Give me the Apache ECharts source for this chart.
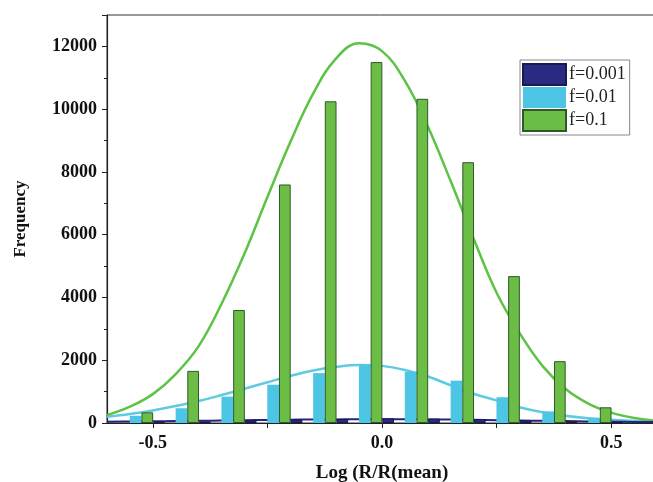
<!DOCTYPE html>
<html>
<head>
<meta charset="utf-8">
<script src="https://cdn.jsdelivr.net/npm/echarts@6/dist/echarts.min.js"></script>
<style>html,body{margin:0;padding:0;background:#fff}#c{width:653px;height:482px}</style>
</head>
<body>
<div id="c"></div>
<script>
// Bin centres (Log(R/R(mean)))
const binX = [-0.512, -0.412, -0.312, -0.212, -0.112, -0.012, 0.088, 0.188, 0.288, 0.388, 0.488];
// Bar heights per series
const barF001 = [30, 50, 80, 110, 130, 150, 140, 120, 90, 60, 30];
const barF01  = [230, 470, 840, 1220, 1590, 1860, 1630, 1350, 820, 370, 150];
const barF1   = [340, 1660, 3600, 7600, 10250, 11500, 10330, 8310, 4680, 1970, 500];
// Fitted curves (x, value)
const curveX   = [-0.6, -0.55, -0.5, -0.45, -0.4, -0.35, -0.3, -0.25, -0.2, -0.15, -0.1, -0.05, 0, 0.05, 0.1, 0.15, 0.2, 0.25, 0.3, 0.35, 0.4, 0.45, 0.5, 0.55, 0.6];
const fitF1    = [250, 520, 920, 1560, 2450, 3800, 5400, 7200, 8950, 10500, 11620, 12100, 11850, 10900, 9450, 7700, 5870, 4150, 2870, 1820, 1090, 620, 330, 160, 70];
const fitF01   = [200, 290, 400, 540, 700, 890, 1090, 1300, 1500, 1670, 1790, 1850, 1820, 1690, 1480, 1200, 930, 720, 500, 340, 230, 150, 100, 60, 40];
const fitF001  = [40, 48, 55, 62, 70, 80, 90, 98, 105, 110, 115, 118, 120, 118, 115, 108, 100, 90, 80, 70, 60, 50, 40, 35, 30];
const seriesNames = ['f=0.001', 'f=0.01', 'f=0.1'];
const xTickValues = [-0.5, -0.25, 0, 0.25, 0.5];
const xLabelValues = [-0.5, 0, 0.5];

const pair = (xs, ys) => xs.map((x, i) => [x, ys[i]]);
const font = 'Liberation Serif';
const chart = echarts.init(document.getElementById('c'), null, {renderer: 'canvas'});
chart.setOption({
  animation: false,
  backgroundColor: '#fff',
  grid: {left: 107, top: 15, width: 550, height: 408, containLabel: false, outerBoundsMode: 'none',
    show: true, borderColor: '#333', borderWidth: 1, backgroundColor: 'transparent'},
  legend: {
    data: seriesNames,
    orient: 'vertical',
    left: 520, top: 60,
    itemWidth: 43, itemHeight: 21, itemGap: 1,
    icon: 'rect',
    borderColor: '#888', borderWidth: 1,
    padding: [3, 4, 3, 2],
    textStyle: {fontFamily: font, fontSize: 18, color: '#222', padding: [0, 0, 0, -2]}
  },
  xAxis: {
    type: 'value', min: -0.6, max: 0.6,
    name: 'Log (R/R(mean)', nameLocation: 'middle', nameGap: 41,
    nameTextStyle: {fontFamily: font, fontWeight: 'bold', fontSize: 19, color: '#111'},
    axisLine: {show: true, onZero: false, lineStyle: {color: '#222', width: 1.2}},
    axisTick: {show: true, inside: false, length: 5, customValues: xTickValues, lineStyle: {color: '#222'}},
    axisLabel: {customValues: xLabelValues, margin: 11, fontFamily: font, fontWeight: 'bold', fontSize: 18, color: '#111',
      formatter: v => v.toFixed(1)},
    splitLine: {show: false}
  },
  yAxis: {
    type: 'value', min: 0, max: 13000, interval: 2000,
    name: 'Frequency', nameLocation: 'middle', nameGap: 78, nameRotate: 90,
    nameTextStyle: {fontFamily: font, fontWeight: 'bold', fontSize: 17, color: '#111'},
    axisLine: {show: true, onZero: false, lineStyle: {color: '#222', width: 1.2}},
    axisTick: {show: true, inside: false, length: 5, lineStyle: {color: '#222'}},
    minorTick: {show: true, splitNumber: 2, length: 3, lineStyle: {color: '#222'}},
    axisLabel: {margin: 10, fontFamily: font, fontWeight: 'bold', fontSize: 18, color: '#111', showMaxLabel: false,
      formatter: v => String(v)},
    splitLine: {show: false}
  },
  series: [
    {name: 'fit f=0.01', type: 'line', smooth: 0.4, showSymbol: false, z: 1,
      lineStyle: {color: '#5ecbe2', width: 2.5}, data: pair(curveX, fitF01)},
    {name: 'fit f=0.1', type: 'line', smooth: 0.4, showSymbol: false, z: 1,
      lineStyle: {color: '#5cc444', width: 2.5}, data: pair(curveX, fitF1)},
    {name: 'fit f=0.001', type: 'line', smooth: 0.4, showSymbol: false, z: 1,
      lineStyle: {color: '#26237e', width: 2}, data: pair(curveX, fitF001)},
    {name: 'f=0.01', type: 'bar', barWidth: 11.7, barGap: '0%', z: 2,
      itemStyle: {color: '#4dc6e6', borderColor: '#4dc6e6', borderWidth: 0}, data: pair(binX, barF01)},
    {name: 'f=0.1', type: 'bar', barWidth: 11.7, barGap: '0%', z: 2,
      itemStyle: {color: '#6bbd45', borderColor: '#2d5a2a', borderWidth: 1}, data: pair(binX, barF1)},
    {name: 'f=0.001', type: 'bar', barWidth: 11.7, barGap: '0%', z: 2,
      itemStyle: {color: '#2a2a80', borderColor: '#1a1a50', borderWidth: 1}, data: pair(binX, barF001)}
  ]
});
</script>
</body>
</html>
